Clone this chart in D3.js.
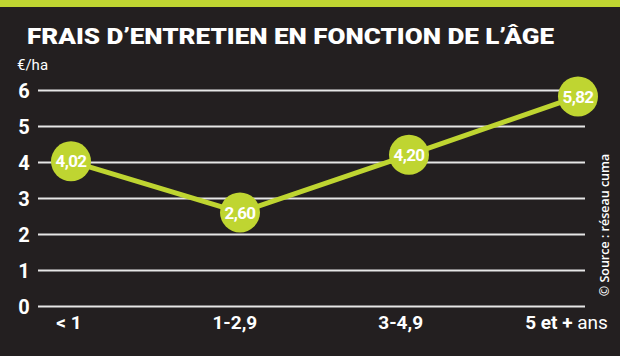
<!DOCTYPE html>
<html>
<head>
<meta charset="utf-8">
<script src="https://cdn.jsdelivr.net/npm/d3@7/dist/d3.min.js"></script>
<style>
  html, body { margin: 0; padding: 0; background: #231f20; }
  svg { display: block; }
</style>
</head>
<body>
<svg id="chart" width="620" height="356"></svg>
<script>
const categories = ["< 1", "1-2,9", "3-4,9", "5 et +"];
const values = [4.02, 2.60, 4.20, 5.82];
const valueLabels = ["4,02", "2,60", "4,20", "5,82"];
const yTicks = [0, 1, 2, 3, 4, 5, 6];
const title = "FRAIS D\u2019ENTRETIEN EN FONCTION DE L\u2019\u00C2GE";
const unit = "\u20AC/ha";
const source = "\u00A9 Source : r\u00E9seau cuma";

const W = 620, H = 356;
const lime = "#bfd531";
const bg = "#231f20";
const svg = d3.select("#chart");

svg.append("rect").attr("width", W).attr("height", H).attr("fill", bg);
svg.append("rect").attr("width", W).attr("height", 7).attr("fill", lime);

svg.append("text")
  .attr("x", 27).attr("y", 44)
  .attr("fill", "#fff")
  .attr("font-family", "Roboto, sans-serif")
  .attr("font-weight", 900)
  .attr("font-size", 21.5)
  .attr("textLength", 527)
  .attr("lengthAdjust", "spacingAndGlyphs")
  .text(title);

svg.append("text")
  .attr("x", 17).attr("y", 70)
  .attr("fill", "#fff")
  .attr("font-family", "Roboto, sans-serif")
  .attr("font-size", 15)
  .text(unit);

const gridX0 = 38, gridX1 = 585;
const y = d3.scaleLinear().domain([0, 6]).range([306, 90]);
const x = d3.scalePoint().domain(categories).range([71, 578]);
const xl = d3.scalePoint().domain(categories).range([68.5, 566]);

// y axis with gridlines
const yAxis = svg.append("g")
  .attr("transform", `translate(${gridX0},0)`)
  .call(d3.axisLeft(y).tickValues(yTicks).tickSize(-(gridX1 - gridX0)).tickFormat(d3.format("d")));
yAxis.select(".domain").remove();
yAxis.selectAll(".tick line")
  .attr("stroke", "#e6e6e6").attr("stroke-width", 2);
yAxis.selectAll(".tick text")
  .attr("x", -14)
  .attr("dy", "0.36em")
  .attr("text-anchor", "middle")
  .attr("fill", "#fff")
  .attr("font-family", "Roboto, sans-serif")
  .attr("font-weight", 700)
  .attr("font-size", 20);

// x axis labels
const xAxis = svg.append("g")
  .attr("transform", "translate(0,329)")
  .call(d3.axisBottom(xl).tickSize(0).tickPadding(0));
xAxis.select(".domain").remove();
xAxis.selectAll(".tick text")
  .attr("y", 0).attr("dy", 0)
  .attr("text-anchor", "middle")
  .attr("fill", "#fff")
  .attr("font-family", "Roboto, sans-serif")
  .attr("font-weight", 700)
  .attr("font-size", 19)
  .each(function(d, i) {
    if (i === categories.length - 1) {
      const t = d3.select(this);
      t.text(null);
      t.append("tspan").text(d);
      t.append("tspan").attr("font-weight", 400).text(" ans");
    }
  });

// line
const pts = categories.map((c, i) => ({c, v: values[i], l: valueLabels[i]}));
svg.append("path")
  .datum(pts)
  .attr("fill", "none")
  .attr("stroke", lime)
  .attr("stroke-width", 5)
  .attr("d", d3.line().x(d => x(d.c)).y(d => y(d.v)));

const g = svg.append("g").selectAll("g").data(pts).join("g")
  .attr("transform", d => `translate(${x(d.c)},${y(d.v)})`);
g.append("circle").attr("r", 20).attr("fill", lime);
g.append("text")
  .attr("text-anchor", "middle")
  .attr("dy", "0.36em")
  .attr("fill", "#fff")
  .attr("font-family", "Roboto, sans-serif")
  .attr("font-weight", 700)
  .attr("font-size", 17)
  .attr("letter-spacing", -0.6)
  .text(d => d.l);

// source
svg.append("text")
  .attr("transform", "translate(609,225) rotate(-90)")
  .attr("text-anchor", "middle")
  .attr("fill", "#fff")
  .attr("font-family", "'Open Sans', sans-serif")
  .attr("font-size", 12.5)
  .attr("font-weight", 600)
  .text(source);
</script>
</body>
</html>
